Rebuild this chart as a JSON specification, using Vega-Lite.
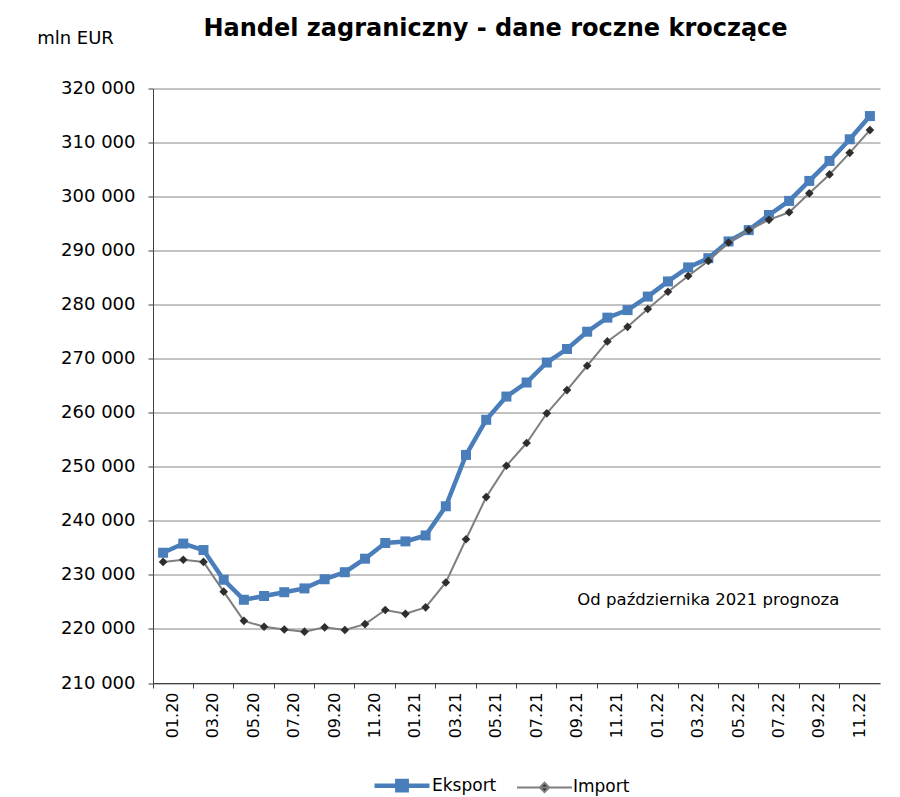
{
  "$schema": "https://vega.github.io/schema/vega-lite/v6.json",
  "width": 727,
  "height": 594.5,
  "autosize": {"type": "none"},
  "padding": {"left": 153, "top": 88.5, "right": 20, "bottom": 114},
  "background": "white",
  "title": {
    "text": "Handel zagraniczny - dane roczne kroczące",
    "font": "DejaVu Sans",
    "fontSize": 24,
    "fontWeight": "bold",
    "color": "#000000",
    "anchor": "middle",
    "frame": "group",
    "dx": -21,
    "baseline": "alphabetic",
    "offset": -31
  },
  "datasets": {
    "trade": [
      {"month": "01.20", "series": "Eksport", "value": 234100},
      {"month": "02.20", "series": "Eksport", "value": 235800},
      {"month": "03.20", "series": "Eksport", "value": 234600},
      {"month": "04.20", "series": "Eksport", "value": 229100},
      {"month": "05.20", "series": "Eksport", "value": 225400},
      {"month": "06.20", "series": "Eksport", "value": 226100},
      {"month": "07.20", "series": "Eksport", "value": 226800},
      {"month": "08.20", "series": "Eksport", "value": 227500},
      {"month": "09.20", "series": "Eksport", "value": 229200},
      {"month": "10.20", "series": "Eksport", "value": 230500},
      {"month": "11.20", "series": "Eksport", "value": 233000},
      {"month": "12.20", "series": "Eksport", "value": 235900},
      {"month": "01.21", "series": "Eksport", "value": 236200},
      {"month": "02.21", "series": "Eksport", "value": 237300},
      {"month": "03.21", "series": "Eksport", "value": 242700},
      {"month": "04.21", "series": "Eksport", "value": 252200},
      {"month": "05.21", "series": "Eksport", "value": 258700},
      {"month": "06.21", "series": "Eksport", "value": 263000},
      {"month": "07.21", "series": "Eksport", "value": 265600},
      {"month": "08.21", "series": "Eksport", "value": 269300},
      {"month": "09.21", "series": "Eksport", "value": 271800},
      {"month": "10.21", "series": "Eksport", "value": 275000},
      {"month": "11.21", "series": "Eksport", "value": 277600},
      {"month": "12.21", "series": "Eksport", "value": 279000},
      {"month": "01.22", "series": "Eksport", "value": 281500},
      {"month": "02.22", "series": "Eksport", "value": 284300},
      {"month": "03.22", "series": "Eksport", "value": 286900},
      {"month": "04.22", "series": "Eksport", "value": 288600},
      {"month": "05.22", "series": "Eksport", "value": 291700},
      {"month": "06.22", "series": "Eksport", "value": 293800},
      {"month": "07.22", "series": "Eksport", "value": 296600},
      {"month": "08.22", "series": "Eksport", "value": 299200},
      {"month": "09.22", "series": "Eksport", "value": 302900},
      {"month": "10.22", "series": "Eksport", "value": 306600},
      {"month": "11.22", "series": "Eksport", "value": 310600},
      {"month": "12.22", "series": "Eksport", "value": 314900},
      {"month": "01.20", "series": "Import", "value": 232400},
      {"month": "02.20", "series": "Import", "value": 232800},
      {"month": "03.20", "series": "Import", "value": 232400},
      {"month": "04.20", "series": "Import", "value": 226900},
      {"month": "05.20", "series": "Import", "value": 221500},
      {"month": "06.20", "series": "Import", "value": 220400},
      {"month": "07.20", "series": "Import", "value": 219900},
      {"month": "08.20", "series": "Import", "value": 219500},
      {"month": "09.20", "series": "Import", "value": 220300},
      {"month": "10.20", "series": "Import", "value": 219800},
      {"month": "11.20", "series": "Import", "value": 220900},
      {"month": "12.20", "series": "Import", "value": 223500},
      {"month": "01.21", "series": "Import", "value": 222800},
      {"month": "02.21", "series": "Import", "value": 224000},
      {"month": "03.21", "series": "Import", "value": 228600},
      {"month": "04.21", "series": "Import", "value": 236600},
      {"month": "05.21", "series": "Import", "value": 244400},
      {"month": "06.21", "series": "Import", "value": 250200},
      {"month": "07.21", "series": "Import", "value": 254400},
      {"month": "08.21", "series": "Import", "value": 259900},
      {"month": "09.21", "series": "Import", "value": 264200},
      {"month": "10.21", "series": "Import", "value": 268700},
      {"month": "11.21", "series": "Import", "value": 273200},
      {"month": "12.21", "series": "Import", "value": 275900},
      {"month": "01.22", "series": "Import", "value": 279200},
      {"month": "02.22", "series": "Import", "value": 282400},
      {"month": "03.22", "series": "Import", "value": 285300},
      {"month": "04.22", "series": "Import", "value": 288100},
      {"month": "05.22", "series": "Import", "value": 291500},
      {"month": "06.22", "series": "Import", "value": 293800},
      {"month": "07.22", "series": "Import", "value": 295700},
      {"month": "08.22", "series": "Import", "value": 297100},
      {"month": "09.22", "series": "Import", "value": 300600},
      {"month": "10.22", "series": "Import", "value": 304100},
      {"month": "11.22", "series": "Import", "value": 308100},
      {"month": "12.22", "series": "Import", "value": 312300}
    ],
    "notes": [
      {"month": "04.22", "value": 225400, "label": "Od października 2021 prognoza"}
    ]
  },
  "encoding": {
    "x": {
      "field": "month",
      "type": "ordinal",
      "scale": {
        "type": "band",
        "paddingInner": 0,
        "paddingOuter": 0,
        "domain": ["01.20","02.20","03.20","04.20","05.20","06.20","07.20","08.20","09.20","10.20","11.20","12.20","01.21","02.21","03.21","04.21","05.21","06.21","07.21","08.21","09.21","10.21","11.21","12.21","01.22","02.22","03.22","04.22","05.22","06.22","07.22","08.22","09.22","10.22","11.22","12.22"]
      },
      "axis": {
        "title": null,
        "values": ["01.20","03.20","05.20","07.20","09.20","11.20","01.21","03.21","05.21","07.21","09.21","11.21","01.22","03.22","05.22","07.22","09.22","11.22"],
        "bandPosition": 0,
        "labelOffset": 10,
        "labelAngle": -90,
        "labelAlign": "right",
        "labelBaseline": "middle",
        "labelFont": "DejaVu Sans",
        "labelFontSize": 16,
        "labelColor": "#000000",
        "labelPadding": 4,
        "tickSize": 5,
        "tickColor": "#404040",
        "domainColor": "#404040",
        "grid": false
      }
    },
    "y": {
      "field": "value",
      "type": "quantitative",
      "scale": {"domain": [210000, 320000], "nice": false, "zero": false},
      "axis": {
        "title": "mln EUR",
        "titleAngle": 0,
        "titleAlign": "center",
        "titleBaseline": "middle",
        "titleX": -78,
        "titleY": -50.5,
        "titleFont": "DejaVu Sans",
        "titleFontSize": 18,
        "titleFontWeight": "normal",
        "titleColor": "#000000",
        "values": [210000,220000,230000,240000,250000,260000,270000,280000,290000,300000,310000,320000],
        "labelExpr": "replace(format(datum.value, ','), ',', ' ')",
        "labelFont": "DejaVu Sans",
        "labelFontSize": 18,
        "labelColor": "#000000",
        "labelPadding": 13,
        "tickSize": 5,
        "tickColor": "#404040",
        "domainColor": "#404040",
        "grid": true,
        "gridColor": "#868686",
        "gridWidth": 1
      }
    }
  },
  "layer": [
    {
      "data": {"name": "trade"},
      "transform": [{"filter": "datum.series == 'Eksport'"}],
      "mark": {"type": "line", "color": "#4A7EBB", "strokeWidth": 4.5},
      "encoding": {}
    },
    {
      "data": {"name": "trade"},
      "transform": [{"filter": "datum.series == 'Eksport'"}],
      "mark": {"type": "point", "shape": "square", "filled": true, "color": "#4A7EBB", "size": 100, "opacity": 1},
      "encoding": {}
    },
    {
      "data": {"name": "trade"},
      "transform": [{"filter": "datum.series == 'Import'"}],
      "mark": {"type": "line", "color": "#7F7F7F", "strokeWidth": 2},
      "encoding": {}
    },
    {
      "data": {"name": "trade"},
      "transform": [{"filter": "datum.series == 'Import'"}],
      "mark": {"type": "point", "shape": "diamond", "filled": true, "color": "#2E2E2E", "size": 75, "opacity": 1},
      "encoding": {}
    },
    {
      "data": {"name": "trade"},
      "transform": [{"filter": "datum.value < 0"}],
      "mark": {"type": "point", "size": 3025, "opacity": 1},
      "encoding": {
        "fill": {
          "field": "series", "type": "nominal",
          "scale": {"domain": ["Eksport", "Import"], "range": ["#4A7EBB", "#2E2E2E"]},
          "legend": {
            "title": null,
            "orient": "none",
            "direction": "horizontal",
            "legendX": 219,
            "legendY": 667,
            "labelFont": "DejaVu Sans",
            "labelFontSize": 17,
            "labelColor": "#000000",
            "labelOffset": 0,
            "columnPadding": 16,
            "padding": 0,
            "symbolSize": 3025,
            "symbolOpacity": 1
          }
        },
        "stroke": {
          "field": "series", "type": "nominal",
          "scale": {"domain": ["Eksport", "Import"], "range": ["#4A7EBB", "#7F7F7F"]}
        },
        "strokeWidth": {
          "field": "series", "type": "nominal",
          "scale": {"domain": ["Eksport", "Import"], "range": [4.5, 2]}
        },
        "shape": {
          "field": "series", "type": "nominal",
          "scale": {"domain": ["Eksport", "Import"], "range": ["M-1,0H1M-0.17,-0.17H0.17V0.17H-0.17Z", "M-1,0H1M0,-0.17L0.17,0L0,0.17L-0.17,0Z"]}
        }
      }
    },
    {
      "data": {"name": "notes"},
      "mark": {"type": "text", "font": "DejaVu Sans", "fontSize": 16.5, "color": "#000000", "align": "center", "baseline": "middle"},
      "encoding": {"text": {"field": "label", "type": "nominal"}}
    }
  ],
  "config": {
    "view": {"stroke": null},
    "axis": {"domainWidth": 1, "tickWidth": 1}
  }
}
